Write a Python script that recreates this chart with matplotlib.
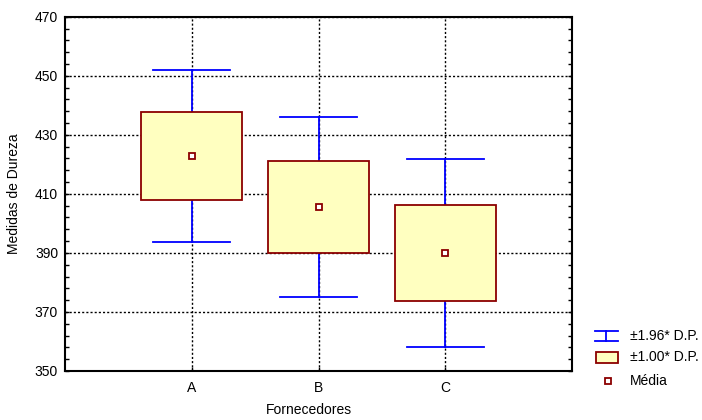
import matplotlib.pyplot as plt
from matplotlib.patches import Rectangle
from matplotlib.lines import Line2D

plt.rcParams['font.family'] = ['Liberation Sans', 'DejaVu Sans']
plt.rcParams['font.size'] = 10

fornecedores = ["A", "B", "C"]
medias = [422.8, 405.5, 390.0]
desvios = [14.8, 15.6, 16.2]
k_caixa = 1.00
k_bigode = 1.96

box_fill = "#ffffc0"
box_edge = "#8b0000"
whisk_col = "#0000ff"

fig = plt.figure(figsize=(7.02, 4.2), dpi=100)
ax = fig.add_axes([65 / 702, 49 / 420, 507 / 702, 354.3 / 420])

pos = [1, 2, 3]
bw = 0.8
cap = 0.61
for x, m, s in zip(pos, medias, desvios):
    lo_w, hi_w = m - k_bigode * s, m + k_bigode * s
    lo_b, hi_b = m - k_caixa * s, m + k_caixa * s
    # whiskers
    ax.plot([x, x], [lo_w, hi_w], color=whisk_col, lw=1.3, zorder=3)
    ax.plot([x - cap / 2, x + cap / 2], [hi_w, hi_w], color=whisk_col, lw=1.3, zorder=3)
    ax.plot([x - cap / 2, x + cap / 2], [lo_w, lo_w], color=whisk_col, lw=1.3, zorder=3)
    # box
    ax.add_patch(Rectangle((x - bw / 2, lo_b), bw, hi_b - lo_b, facecolor=box_fill,
                           edgecolor=box_edge, lw=1.3, zorder=4))
    # mean
    ax.plot(x, m, marker="s", ms=5, mfc="white", mec=box_edge, mew=1.3, zorder=5)

ax.set_xlim(0, 4)
ax.set_ylim(350, 470)
ax.set_xticks(pos)
ax.set_xticklabels(fornecedores)
ax.set_yticks(range(350, 471, 20))
ax.set_yticks(range(350, 471, 4), minor=True)
ax.tick_params(axis="both", direction="in", length=3, width=1, labelsize=10)
ax.tick_params(axis="x", pad=7)
ax.tick_params(axis="y", pad=5)
ax.tick_params(axis="y", which="minor", direction="in", length=3, width=1, left=True, right=True)
ax.tick_params(axis="y", which="major", left=True, right=True, length=3)
ax.tick_params(axis="x", which="minor", bottom=False)
ax.grid(True, which="major", color="black", lw=1, linestyle=(0, (1.5, 1.5)), zorder=1)
ax.set_axisbelow(True)
for sp in ax.spines.values():
    sp.set_linewidth(1.5)

ax.set_xlabel("Fornecedores", fontsize=10, va="center")
ax.xaxis.set_label_coords(0.481, -0.11)
ax.set_ylabel("Medidas de Dureza", fontsize=10, va="center")
ax.yaxis.set_label_coords(-0.1, 0.5)

# legend drawn at figure level
def fx(px):
    return px / 702

def fy(py):
    return 1 - py / 420

fig.add_artist(Line2D([fx(606), fx(606)], [fy(331), fy(341)], color=whisk_col, lw=1.3))
fig.add_artist(Line2D([fx(595), fx(618)], [fy(331), fy(331)], color=whisk_col, lw=1.3))
fig.add_artist(Line2D([fx(595), fx(618)], [fy(341), fy(341)], color=whisk_col, lw=1.3))
fig.text(fx(630), fy(336), "±1.96* D.P.", va="center", ha="left", fontsize=10)
fig.add_artist(Rectangle((fx(596), fy(363)), fx(22), 11 / 420, facecolor=box_fill,
                         edgecolor=box_edge, lw=1.3, transform=fig.transFigure))
fig.text(fx(630), fy(357), "±1.00* D.P.", va="center", ha="left", fontsize=10)
fig.add_artist(Line2D([fx(607.5)], [fy(381)], marker="s", ms=5, mfc="white",
                      mec=box_edge, mew=1.3, linestyle="none"))
fig.text(fx(630), fy(381), "Média", va="center", ha="left", fontsize=10)

fig.savefig("out.png", dpi=100)
